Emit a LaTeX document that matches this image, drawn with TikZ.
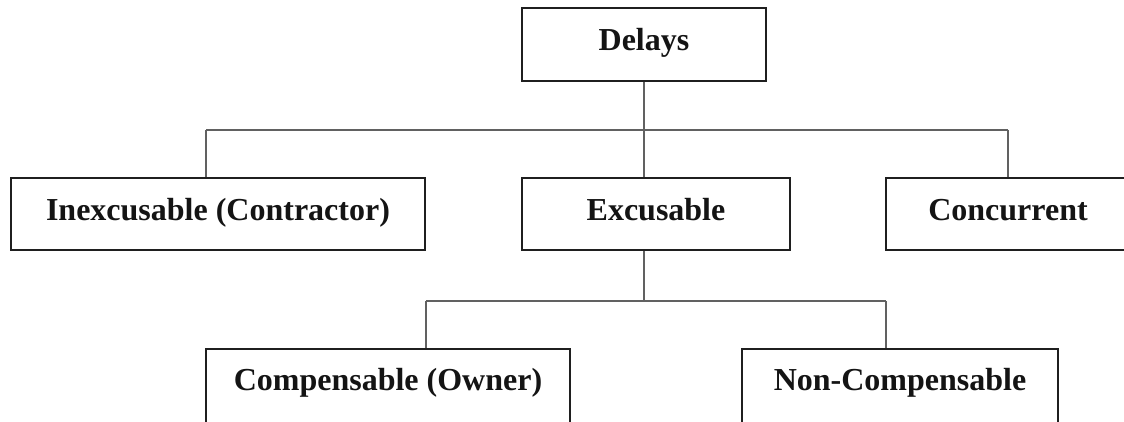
\documentclass[tikz,border=0pt]{standalone}
\usepackage{fontspec}
\setmainfont{Liberation Serif}
\begin{document}
\begin{tikzpicture}[x=1pt,y=1pt,
  box/.style={draw=black!88, line width=2pt, fill=white, inner sep=0pt,
    minimum height=72pt, text height=42pt, text depth=30pt,
    font=\fontsize{32}{38}\selectfont\bfseries, text=black!92},
  lowbox/.style={box, minimum height=100pt, text height=41pt, text depth=59pt},
  conn/.style={draw=black!62, line width=2pt}]
\useasboundingbox (0,0) rectangle (1124,421);
\clip (0,0) rectangle (1124,421);
\node[box, minimum width=244pt, minimum height=73pt] (delays) at (644,376.5) {Delays};
\node[box, minimum width=414pt] (inex) at (218,207) {Inexcusable (Contractor)};
\node[box, minimum width=268pt] (exc) at (656,207) {Excusable};
\node[box, minimum width=244pt] (conc) at (1008,207) {Concurrent};
\node[lowbox, minimum width=364pt] (comp) at (388,22) {Compensable (Owner)};
\node[lowbox, minimum width=316pt] (noncomp) at (900,22) {Non-Compensable};
\coordinate (ja) at (644,291);
\coordinate (la) at (206,291);
\coordinate (ra) at (1008,291);
\coordinate (jb) at (644,120);
\coordinate (lb) at (426,120);
\coordinate (rb) at (886,120);
\draw[conn] (ja |- delays.south) -- (ja);
\draw[conn] (la) -- (ra);
\draw[conn] (la) -- (la |- inex.north);
\draw[conn] (ja) -- (ja |- exc.north);
\draw[conn] (ra) -- (ra |- conc.north);
\draw[conn] (ja |- exc.south) -- (jb);
\draw[conn] (lb) -- (rb);
\draw[conn] (lb) -- (lb |- comp.north);
\draw[conn] (rb) -- (rb |- noncomp.north);
\end{tikzpicture}
\end{document}
